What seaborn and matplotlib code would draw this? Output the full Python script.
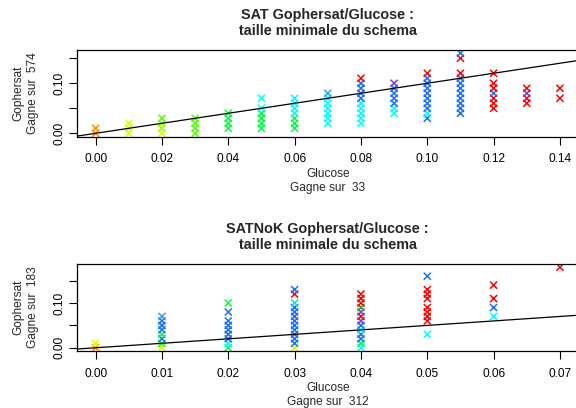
import matplotlib
matplotlib.use("Agg")
import matplotlib.pyplot as plt
import seaborn as sns
import pandas as pd

# colour codes used for the points
palette = {
    'o': '#FF8C00', 'y': '#D9FF00', 'l': '#99FF00', 'g': '#4DFF00',
    'G': '#00FF40', 'c': '#00FFFF', 't': '#1AE6C0', 'b': '#1A6EFF',
    'B': '#3399FF', 'r': '#FF0000', 'p': '#7A3DCC', 'd': '#2EA02E',
}

# SAT panel: x columns, y values (in hundredths) and colour code per point
sat_x = [0.00, 0.01, 0.02, 0.03, 0.04, 0.05, 0.06, 0.07,
         0.08, 0.09, 0.10, 0.11, 0.12, 0.13, 0.14]
sat_y = [[0, 1], [0, 1, 2], [0, 1, 2, 3], [0, 1, 2, 3], [1, 2, 3, 4],
         [1, 2, 3, 4, 5, 7], [1, 2, 3, 4, 5, 6, 7], [2, 3, 4, 5, 6, 7, 8],
         [2, 3, 4, 5, 6, 7, 8, 9, 10, 11], [4, 5, 6, 7, 8, 9, 10],
         [3, 4, 5, 6, 7, 8, 9, 10, 11, 12],
         [4, 5, 6, 7, 8, 9, 10, 11, 12, 15, 16],
         [5, 6, 7, 8, 9, 10, 12], [6, 7, 8, 9], [7, 9]]
sat_c = ["oo", "yyy", "yllg", "gggg", "GGGG", "GGGGcc", "GGGcccc", "ccccccB",
         "cccccbbbbr", "ccbbbbp", "bcbbbbbbbr", "bbbbbbbbrrb", "rrrbrrr",
         "rrpr", "rr"]

# SATNoK panel
nok_x = [0.00, 0.01, 0.02, 0.03, 0.04, 0.05, 0.06, 0.07]
nok_y = [[0, 1], [0, 1, 2, 3, 4, 5, 6, 7], [0, 1, 2, 3, 4, 5, 6, 8, 10],
         [0, 1, 2, 3, 4, 5, 6, 7, 8, 9, 10, 12, 13],
         [0, 1, 2, 3, 4, 5, 6, 7, 8, 9, 10, 11, 12],
         [3, 6, 7, 8, 9, 11, 12, 13, 16], [7, 9, 11, 14], [18]]
nok_c = ["oy", "yGbGbbbB", "GcbbbbbbG", "ybbbbbbbbbtrb", "cGbbcbprpdrrr",
         "crrrrrrrb", "cbrr", "r"]


def to_frame(xs, ys, cs):
    rows = []
    for x, yl, cl in zip(xs, ys, cs):
        for v, c in zip(yl, cl):
            rows.append({'Glucose': x, 'Gophersat': v / 100.0, 'col': c})
    return pd.DataFrame(rows)


sns.set_style("ticks")
plt.rcParams['font.family'] = ['Liberation Sans', 'DejaVu Sans']

fig = plt.figure(figsize=(5.76, 4.08), dpi=100)

panels = [
    (to_frame(sat_x, sat_y, sat_c), "SAT Gophersat/Glucose :\ntaille minimale du schema",
     574, 33, [0.1337, 0.6654, 0.8707, 0.2120], (-0.0056, 0.1456), (-0.0064, 0.1664),
     [0.00, 0.02, 0.04, 0.06, 0.08, 0.10, 0.12, 0.14]),
    (to_frame(nok_x, nok_y, nok_c), "SATNoK Gophersat/Glucose :\ntaille minimale du schema",
     183, 312, [0.1337, 0.1397, 0.8707, 0.2132], (-0.0028, 0.0728), (-0.0072, 0.1872),
     [0.00, 0.01, 0.02, 0.03, 0.04, 0.05, 0.06, 0.07]),
]

for df, title, wins_g, wins_s, rect, xlim, ylim, xticks in panels:
    ax = fig.add_axes(rect)
    sns.scatterplot(data=df, x='Glucose', y='Gophersat', hue='col', palette=palette,
                    marker='x', s=26, linewidth=1.1, legend=False, ax=ax)
    ax.axline((0, 0), slope=1, color='black', lw=0.9)
    ax.set_xlim(*xlim)
    ax.set_ylim(*ylim)
    ax.set_xticks(xticks)
    ax.set_xticklabels([f"{t:.2f}" for t in xticks])
    ax.set_yticks([0.00, 0.05, 0.10, 0.15])
    ax.set_yticklabels(["0.00", "", "0.10", ""], rotation=90, va='center')
    ax.tick_params(direction='out', length=5.5, width=0.8, labelsize=8.6,
                   colors='black')
    ax.tick_params(axis='x', pad=6.5)
    ax.tick_params(axis='y', pad=2.5)
    for sp in ax.spines.values():
        sp.set_color('black')
        sp.set_linewidth(0.9)
    ax.set_xlabel(f"Glucose\nGagne sur  {wins_s}", fontsize=8.6, labelpad=2)
    ax.set_ylabel(f"Gophersat\nGagne sur  {wins_g}", fontsize=8.6, labelpad=11)
    ax.set_title(title, fontsize=10.4, fontweight='bold', pad=10.5)

fig.savefig("out.png", dpi=100, facecolor='white')
